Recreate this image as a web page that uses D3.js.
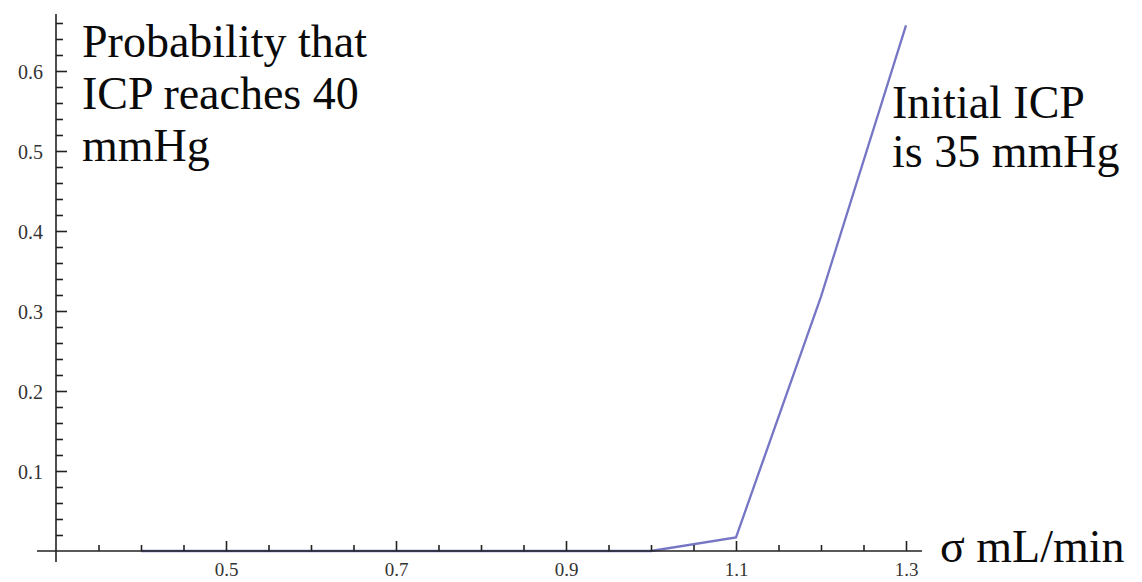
<!DOCTYPE html>
<html>
<head>
<meta charset="utf-8">
<script src="https://cdn.jsdelivr.net/npm/d3@7"></script>
<style>
  html, body { margin: 0; padding: 0; background: #fff; }
  svg { display: block; }
</style>
</head>
<body>
<svg id="chart" width="1142" height="582"></svg>
<script>
// ---- data ----
const sigma = [0.4, 0.5, 0.6, 0.7, 0.8, 0.9, 1.0, 1.1, 1.2, 1.3];
const probability = [0, 0, 0, 0, 0, 0, 0, 0.017, 0.318, 0.657];
const xMajorTicks = [0.5, 0.7, 0.9, 1.1, 1.3];
const xTickLabels = ["0.5", "0.7", "0.9", "1.1", "1.3"];
const yMajorTicks = [0.1, 0.2, 0.3, 0.4, 0.5, 0.6];
const yTickLabels = ["0.1", "0.2", "0.3", "0.4", "0.5", "0.6"];
const labelLeft = ["Probability that", "ICP reaches 40", "mmHg"];
const labelRight = ["Initial ICP", "is 35 mmHg"];
const xAxisLabel = "σ mL/min";

const serif = "'Liberation Serif', 'Times New Roman', serif";

// ---- scales ----
const x = d3.scaleLinear().domain([0.3, 1.3]).range([56, 906]);
const y = d3.scaleLinear().domain([0, 0.6]).range([551, 71]);

const svg = d3.select("#chart");
svg.append("rect").attr("width", 1142).attr("height", 582).attr("fill", "#fff");

const xMinor = d3.range(7, 27).map(i => +(i * 0.05).toFixed(2)).filter(v => !xMajorTicks.some(m => Math.abs(m - v) < 1e-6));
const yMinor = d3.range(1, 34).map(i => +(i * 0.02).toFixed(2)).filter(v => !yMajorTicks.some(m => Math.abs(m - v) < 1e-6));

// ---- line (under the axes) ----
const line = d3.line().x((d, i) => x(sigma[i])).y(d => y(d));
svg.append("path")
  .datum(probability)
  .attr("fill", "none")
  .attr("stroke", "#7676c4")
  .attr("stroke-width", 2.3)
  .attr("d", line);

const axisColor = "#222";

// ---- x axis ----
const gx = svg.append("g").attr("transform", `translate(0,${y(0)})`);
gx.append("line").attr("x1", 37).attr("x2", 922).attr("y1", 0).attr("y2", 0)
  .attr("stroke", axisColor).attr("stroke-width", 1.6);
const gxMin = gx.append("g").call(d3.axisTop(x).tickValues(xMinor).tickSize(6).tickFormat(""));
const gxMaj = gx.append("g").call(d3.axisTop(x).tickValues(xMajorTicks).tickSize(10).tickFormat((d, i) => xTickLabels[i]));
[gxMin, gxMaj].forEach(g => {
  g.select(".domain").remove();
  g.selectAll(".tick line").attr("stroke", axisColor).attr("stroke-width", 1.6);
});
gxMaj.attr("font-family", null);
gxMaj.selectAll(".tick text")
  .attr("y", 25).attr("dy", 0)
  .attr("fill", "#333")
  .style("font-size", "19px")
  .style("font-family", serif);

// ---- y axis ----
const gy = svg.append("g").attr("transform", `translate(${x(0.3)},0)`);
gy.append("line").attr("x1", 0).attr("x2", 0).attr("y1", 14).attr("y2", 562)
  .attr("stroke", axisColor).attr("stroke-width", 1.6);
const gyMin = gy.append("g").call(d3.axisRight(y).tickValues(yMinor).tickSize(7).tickFormat(""));
const gyMaj = gy.append("g").call(d3.axisRight(y).tickValues(yMajorTicks).tickSize(11).tickFormat((d, i) => yTickLabels[i]));
[gyMin, gyMaj].forEach(g => {
  g.select(".domain").remove();
  g.selectAll(".tick line").attr("stroke", axisColor).attr("stroke-width", 1.6);
});
gyMaj.attr("font-family", null);
gyMaj.selectAll(".tick text")
  .attr("x", -13).attr("dy", "0.35em")
  .attr("text-anchor", "end")
  .attr("fill", "#333")
  .style("font-size", "20px")
  .style("font-family", serif);

// ---- annotations ----
const big = "46px";
svg.append("g").selectAll("text").data(labelLeft).join("text")
  .attr("x", 82).attr("y", (d, i) => 57 + i * 52)
  .style("font-size", big).style("font-family", serif).attr("fill", "#0a0a0a")
  .text(d => d);

svg.append("g").selectAll("text").data(labelRight).join("text")
  .attr("x", 892).attr("y", (d, i) => 118 + i * 49)
  .style("font-size", big).style("font-family", serif).attr("fill", "#0a0a0a")
  .text(d => d);

svg.append("text")
  .attr("x", 940).attr("y", 562)
  .style("font-size", big).style("font-family", serif).attr("fill", "#0a0a0a")
  .text(xAxisLabel);
</script>
</body>
</html>
